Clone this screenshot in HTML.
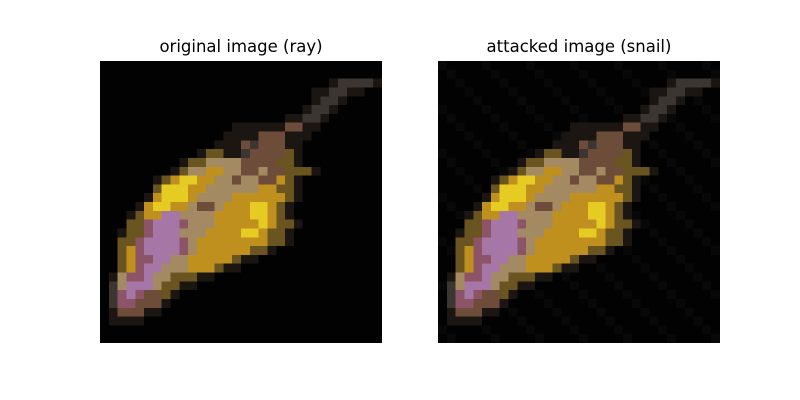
<!DOCTYPE html>
<html><head><meta charset="utf-8"><style>
body{margin:0;background:#fff;width:800px;height:400px;overflow:hidden;position:relative;font-family:"DejaVu Sans","Liberation Sans",sans-serif}
.t{position:absolute;font-size:16.5px;color:#000;transform:translateX(-50%);white-space:nowrap;top:37px}
svg{position:absolute;top:61px}
</style></head><body>
<div class="t" style="left:241px">original image (ray)</div>
<div class="t" style="left:579px">attacked image (snail)</div>
<svg id="L" style="left:100px" width="282" height="282" viewBox="0 0 32 32" shape-rendering="crispEdges"></svg>
<svg id="R" style="left:438px" width="282" height="282" viewBox="0 0 32 32" shape-rendering="crispEdges"></svg>
<script>
const palette={'.':'#020202',d:'#1c1612',g:'#3c3632',b:'#6e4c3a',y:'#e6cc22',o:'#c0901e',t:'#a38a62',p:'#a676a6',m:'#8c5466',k:'#6a5420'};
const rowStarts=[0,0,26,24,24,23,21,15,14,13,11,9,8,6,6,5,4,3,3,2,2,2,2,2,1,1,1,1,1,1,0,0];
const rowPixels=["","","dggggd","ddggdd","dggd","dggd","ddggd","ddddddbbdd","ddddbbbddd","dddbgbbbdd","dkkddgbbbbkd","dkkttttbbbbkkd","dkttoottbbtbbkkkd","dkoyyoottbttbbokd","kyyyoottttttookkd","doyyyottttooooookd","doyyootbbtoooyyokd","dkooppttttooooyyokd","kkmpppmtttoooooyokkd","dkkmppptttooooyyokkd","kkmppppmtooooooookkd","komppppmtooooookkd","kommppttoooookdd","kompptttoookdd","dtmmpttkkkdd","gtppptkkdd","gmpmbbkd","gmmbbbd","dbbbdd","dddd","",""];
function draw(id,noise){
  const svg=document.getElementById(id);
  for(let r=0;r<32;r++){
    const s=rowPixels[r];
    for(let c=0;c<32;c++){
      let ch='.';
      if(c>=rowStarts[r]&&c<rowStarts[r]+s.length)ch=s[c-rowStarts[r]];
      let col=palette[ch];
      if(noise&&ch==='.'&&(r*7+c*13)%5===0)col='#080808';
      const rc=document.createElementNS('http://www.w3.org/2000/svg','rect');
      rc.setAttribute('x',c);rc.setAttribute('y',r);rc.setAttribute('width',1.02);rc.setAttribute('height',1.02);rc.setAttribute('fill',col);
      
      
      svg.appendChild(rc);
    }
  }
}
draw('L',false);draw('R',true);
</script>
</body></html>
